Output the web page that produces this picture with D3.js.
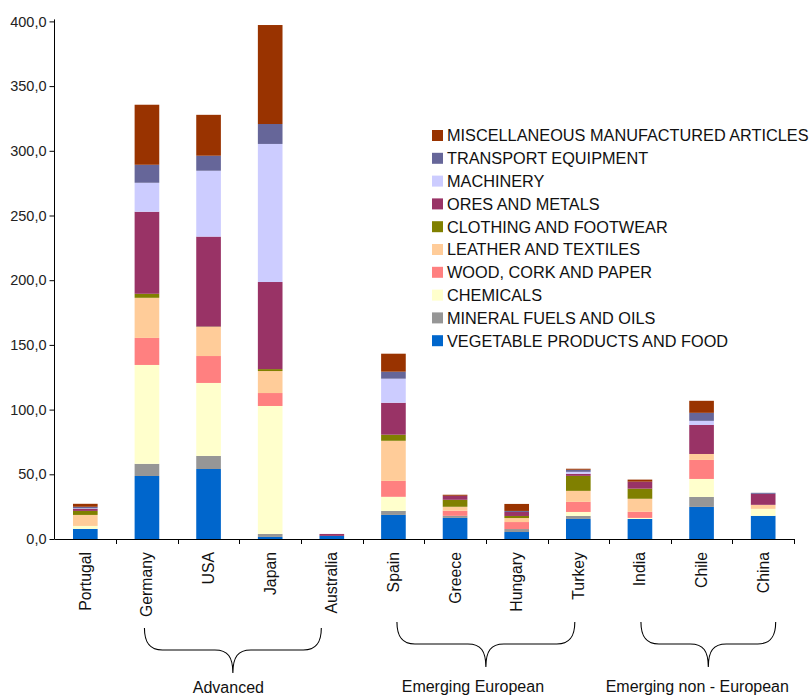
<!DOCTYPE html>
<html>
<head>
<meta charset="utf-8">
<script src="https://cdn.jsdelivr.net/npm/d3@7/dist/d3.min.js"></script>
<style>
  html, body { margin: 0; padding: 0; background: #fff; }
  svg { display: block; font-family: "Liberation Sans", Arial, Helvetica, sans-serif; }
</style>
</head>
<body>
<svg id="chart" width="810" height="697"></svg>
<script>
// Countries on the category axis
const countries = ["Portugal", "Germany", "USA", "Japan", "Australia", "Spain",
                   "Greece", "Hungary", "Turkey", "India", "Chile", "China"];

// Product groups, stacked bottom to top
const seriesNames = [
  "VEGETABLE PRODUCTS AND FOOD",
  "MINERAL FUELS AND OILS",
  "CHEMICALS",
  "WOOD, CORK AND PAPER",
  "LEATHER AND TEXTILES",
  "CLOTHING AND FOOTWEAR",
  "ORES AND METALS",
  "MACHINERY",
  "TRANSPORT EQUIPMENT",
  "MISCELLANEOUS MANUFACTURED ARTICLES"
];
const seriesColors = ["#0066CC", "#969696", "#FFFFCC", "#FF8080", "#FFCC99",
                      "#808000", "#993366", "#CCCCFF", "#666699", "#993300"];

// Values per country, one array per product group
const vegetable    = [7.8, 48.7, 54.1, 1.6, 2.4, 18.6, 16.3, 5.4, 15.5, 15.5, 24.8, 17.9];
const mineralFuels = [0.0, 9.4, 10.1, 2.3, 0.0, 3.1, 1.6, 2.3, 2.3, 0.0, 7.7, 0.0];
const chemicals    = [2.3, 76.4, 56.4, 98.9, 0.0, 10.9, 0.0, 0.0, 3.1, 0.8, 13.9, 5.4];
const woodCork     = [0.0, 20.9, 20.8, 10.0, 0.0, 12.3, 3.9, 5.4, 7.8, 4.7, 14.7, 0.0];
const leatherTex   = [8.5, 31.0, 22.5, 17.0, 0.0, 31.0, 3.1, 3.1, 8.5, 10.1, 4.6, 3.1];
const clothing     = [3.1, 3.1, 0.3, 1.5, 0.0, 4.7, 5.4, 1.6, 11.6, 7.8, 0.0, 0.0];
const oresMetals   = [1.6, 63.4, 69.5, 67.3, 1.5, 24.7, 3.1, 3.1, 1.6, 5.4, 22.4, 8.5];
const machinery    = [0.4, 22.4, 50.9, 106.7, 0.0, 18.6, 0.0, 0.0, 1.5, 0.0, 3.2, 0.0];
const transport    = [1.2, 13.9, 11.6, 15.4, 0.0, 5.4, 0.0, 0.8, 1.6, 0.0, 6.2, 0.8];
const miscArticles = [2.3, 46.4, 31.6, 76.5, 0.0, 13.9, 0.8, 5.4, 0.8, 1.6, 9.3, 0.0];

const yTicks = [0, 50, 100, 150, 200, 250, 300, 350, 400];

// Country groups marked with braces under the axis
const groups = [
  { label: "Advanced", from: "Germany", to: "Australia" },
  { label: "Emerging European", from: "Spain", to: "Turkey" },
  { label: "Emerging non - European", from: "India", to: "China" }
];

// ---- build table for d3.stack ----
const columns = [vegetable, mineralFuels, chemicals, woodCork, leatherTex,
                 clothing, oresMetals, machinery, transport, miscArticles];
const table = countries.map((c, i) => {
  const row = { country: c };
  seriesNames.forEach((s, k) => { row[s] = columns[k][i]; });
  return row;
});
const stacked = d3.stack().keys(seriesNames)(table);

// ---- layout ----
const svg = d3.select("#chart");
const plot = { left: 54.5, right: 794, top: 21.4, bottom: 539 };

const x = d3.scaleBand()
  .domain(countries)
  .range([plot.left, plot.right])
  .paddingInner(0.6)
  .paddingOuter(0.3);

const y = d3.scaleLinear().domain([0, 400]).range([plot.bottom, plot.top]);

// ---- bars ----
svg.append("g").selectAll("g")
  .data(stacked)
  .join("g")
  .attr("fill", (d, i) => seriesColors[i])
  .selectAll("rect")
  .data(d => d)
  .join("rect")
  .attr("x", d => x(d.data.country))
  .attr("width", x.bandwidth())
  .attr("y", d => y(d[1]))
  .attr("height", d => Math.max(0, y(d[0]) - y(d[1])));

// ---- y axis ----
const yAxis = d3.axisLeft(y)
  .tickValues(yTicks)
  .tickSize(5)
  .tickPadding(3)
  .tickFormat(v => d3.format(".1f")(v).replace(".", ","));
const gy = svg.append("g")
  .attr("transform", `translate(${plot.left},0)`)
  .call(yAxis);
gy.select(".domain").attr("d", `M0,${plot.top - 2}V${plot.bottom}`).attr("stroke", "#000");
gy.selectAll(".tick line").attr("stroke", "#000");
gy.selectAll(".tick text")
  .attr("fill", "#222")
  .style("font-size", "14.5px");

// ---- x axis: baseline, boundary ticks, rotated labels ----
const gx = svg.append("g");
gx.append("line")
  .attr("x1", plot.left).attr("x2", plot.right)
  .attr("y1", plot.bottom + 0.5).attr("y2", plot.bottom + 0.5)
  .attr("stroke", "#000").attr("stroke-width", 1.2);

const step = x.step();
const boundaries = d3.range(1, countries.length + 1).map(i => plot.left + i * step);
gx.selectAll("line.tk")
  .data(boundaries)
  .join("line")
  .attr("class", "tk")
  .attr("x1", d => Math.round(d) + 0.5).attr("x2", d => Math.round(d) + 0.5)
  .attr("y1", plot.bottom).attr("y2", plot.bottom + 5)
  .attr("stroke", "#000");

gx.selectAll("text")
  .data(countries)
  .join("text")
  .attr("transform", d => `translate(${x(d) + x.bandwidth() / 2},552) rotate(-90)`)
  .attr("text-anchor", "end")
  .attr("dy", "0.35em")
  .attr("fill", "#111")
  .style("font-size", "15.8px")
  .text(d => d);

// ---- braces and group labels ----
const braceStyle = {
  "Advanced":                { dl: -2.5, dr: -10.5, top: 628, mid: 650, tip: 673, base: 693, lx: -4.5 },
  "Emerging European":       { dl: 3.5,  dr: -3.5,  top: 622, mid: 644, tip: 667, base: 692, lx: -13 },
  "Emerging non - European": { dl: 1,    dr: 12.5,  top: 622, mid: 644, tip: 667, base: 692, lx: -11 }
};
function bracePath(x0, x1, top, mid, tip) {
  const xm = (x0 + x1) / 2;
  const r = 18;
  return `M${x0},${top}` +
    `C${x0},${mid - 9} ${x0 + 4},${mid} ${x0 + r},${mid}` +
    `L${xm - r},${mid}` +
    `C${xm - 5},${mid} ${xm},${mid + 7} ${xm},${tip}` +
    `C${xm},${mid + 7} ${xm + 5},${mid} ${xm + r},${mid}` +
    `L${x1 - r},${mid}` +
    `C${x1 - 4},${mid} ${x1},${mid - 9} ${x1},${top}`;
}
const gb = svg.append("g");
groups.forEach(g => {
  const s = braceStyle[g.label];
  const x0 = x(g.from) + x.bandwidth() / 2 + s.dl;
  const x1 = x(g.to) + x.bandwidth() / 2 + s.dr;
  gb.append("path")
    .attr("d", bracePath(x0, x1, s.top, s.mid, s.tip))
    .attr("fill", "none")
    .attr("stroke", "#000")
    .attr("stroke-width", 1.1);
  gb.append("text")
    .attr("x", (x0 + x1) / 2 + s.lx)
    .attr("y", s.base)
    .attr("text-anchor", "middle")
    .attr("fill", "#111")
    .style("font-size", "16px")
    .text(g.label);
});

// ---- legend (top entry = top of stack) ----
const legendItems = seriesNames.map((s, i) => ({ name: s, color: seriesColors[i] })).reverse();
const lg = svg.append("g");
const rows = lg.selectAll("g")
  .data(legendItems)
  .join("g")
  .attr("transform", (d, i) => `translate(432,${135.5 + i * 22.8})`);
rows.append("rect")
  .attr("x", 0).attr("y", -5.5)
  .attr("width", 11).attr("height", 11)
  .attr("fill", d => d.color);
rows.append("text")
  .attr("x", 15)
  .attr("dy", "0.36em")
  .attr("fill", "#111")
  .style("font-size", "16.3px")
  .text(d => d.name);
</script>
</body>
</html>
